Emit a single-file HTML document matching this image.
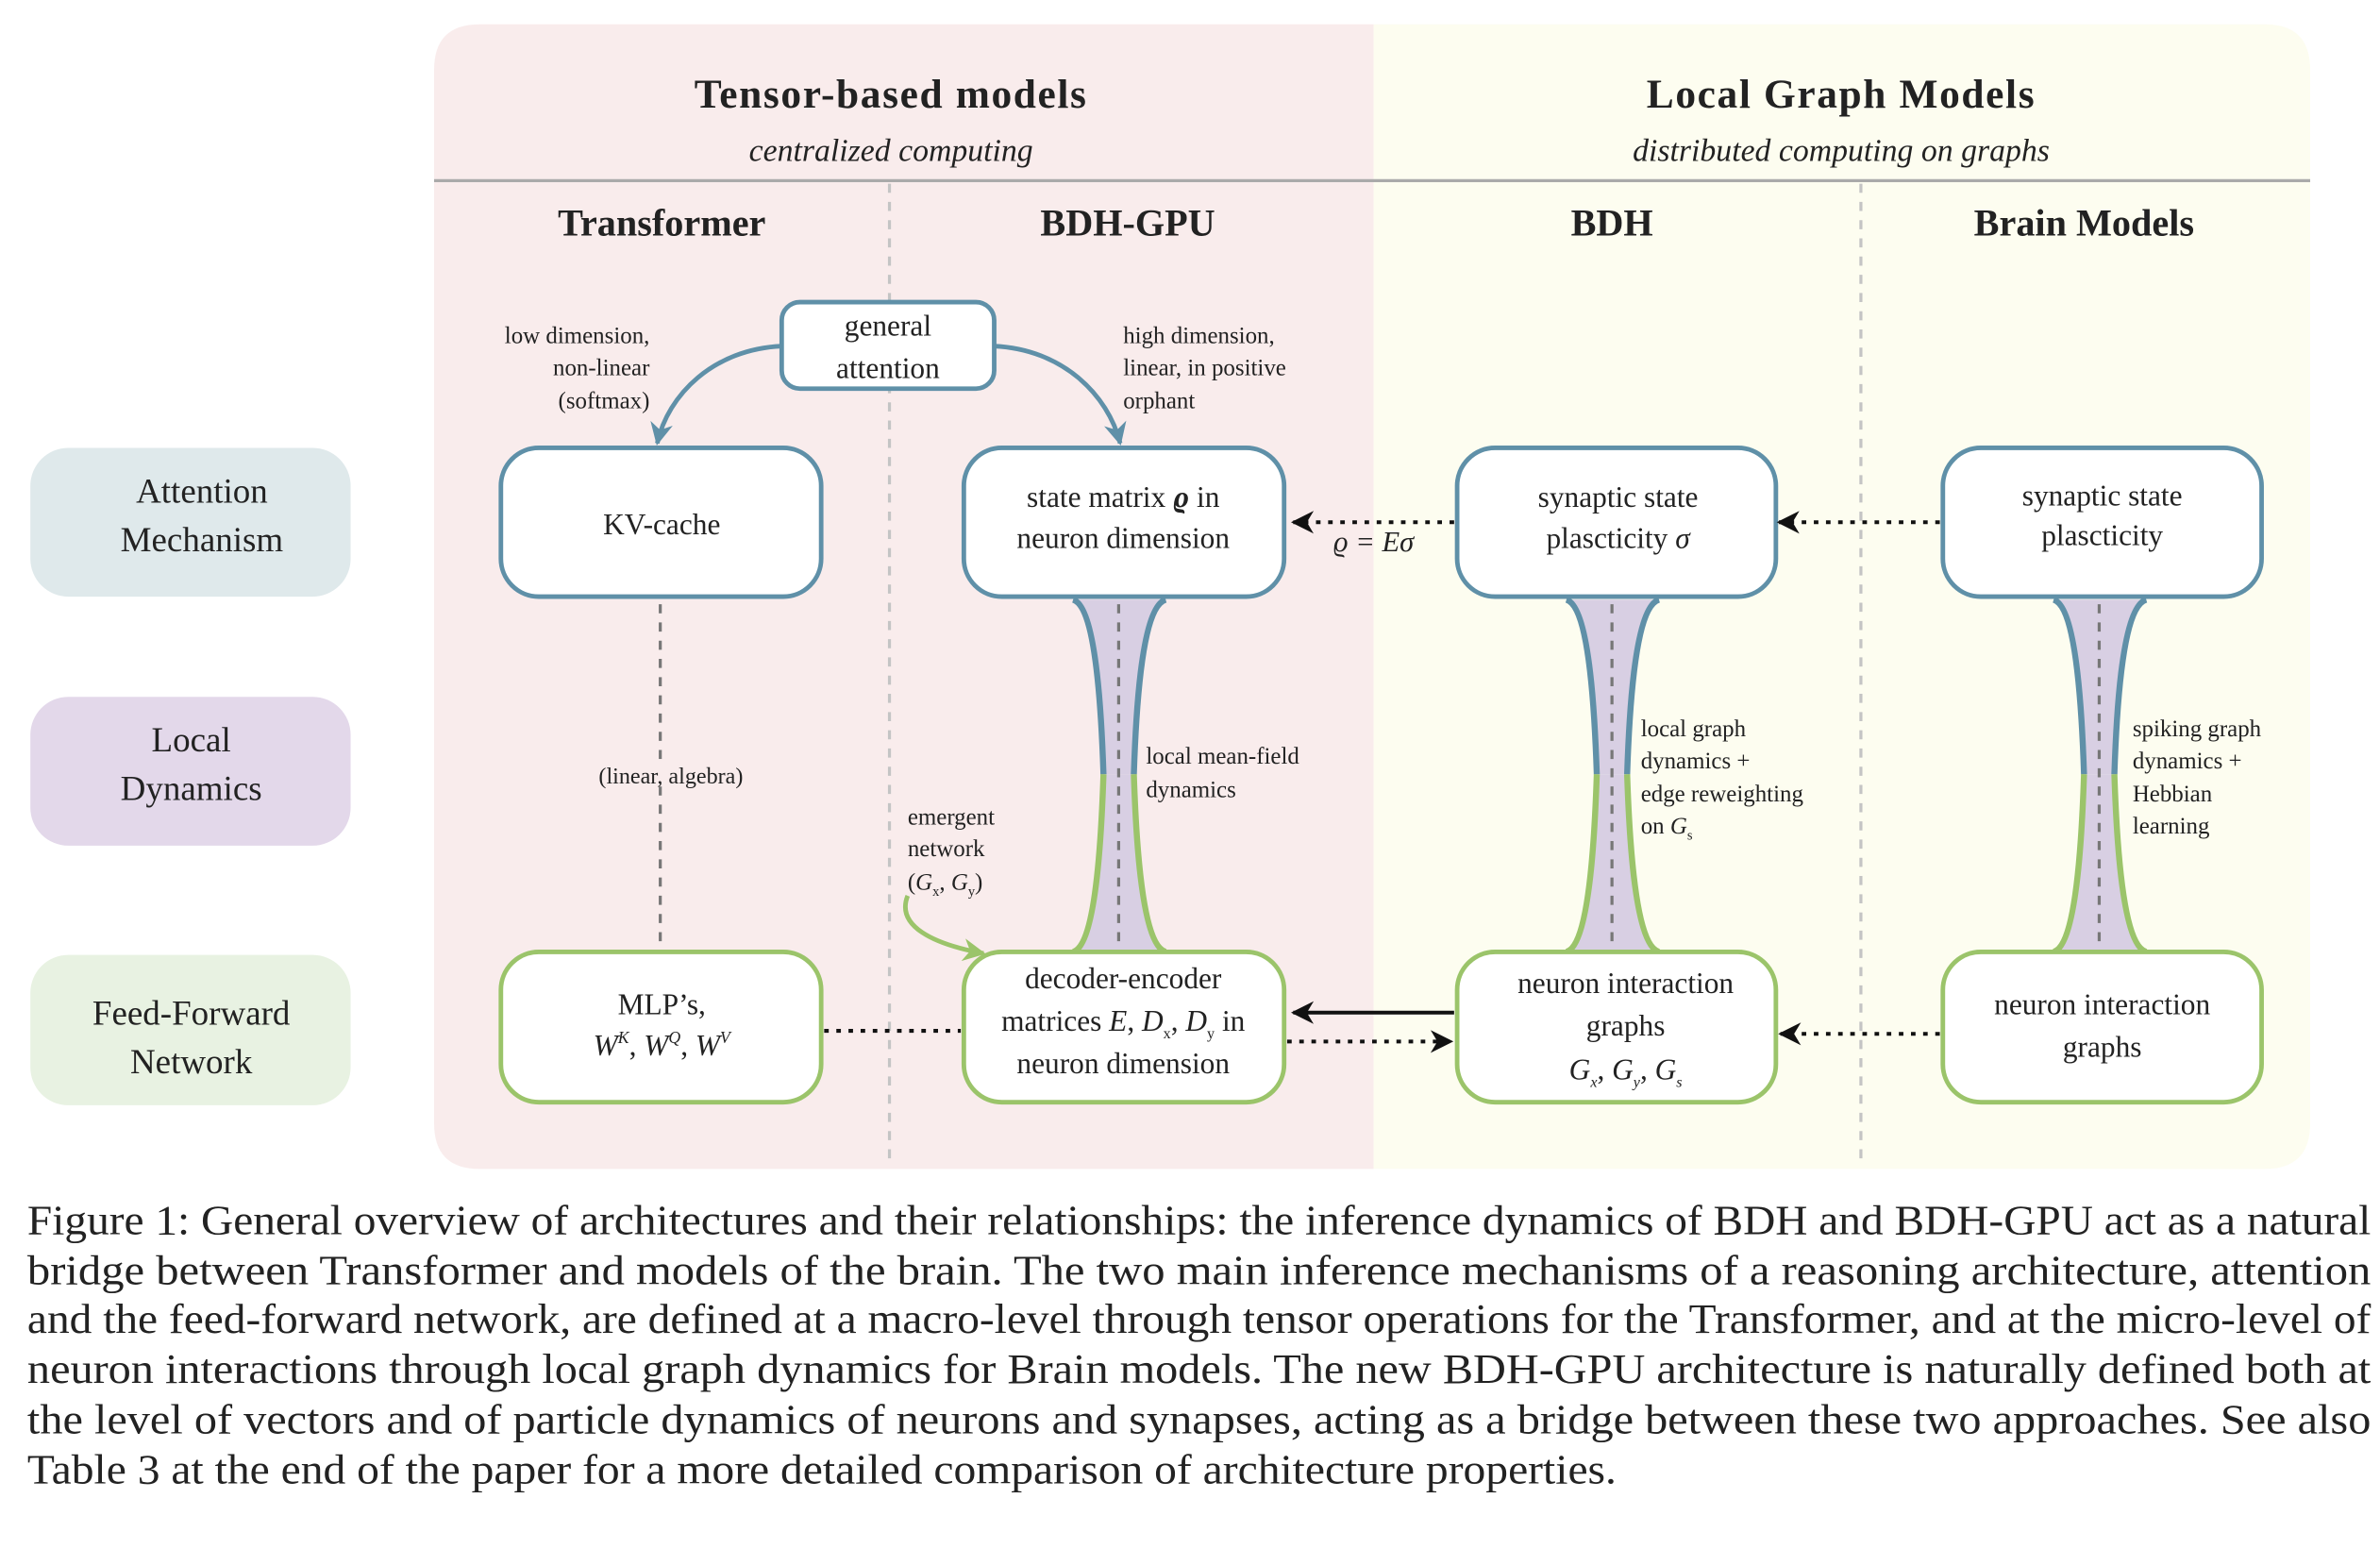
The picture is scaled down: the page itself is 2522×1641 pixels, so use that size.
<!DOCTYPE html>
<html><head><meta charset="utf-8"><style>
html,body{margin:0;padding:0;background:#fff;}
svg{display:block;}
text{font-family:"Liberation Serif",serif;fill:#222;}
</style></head><body>
<svg width="2522" height="1641" viewBox="0 0 1568 1020.3" preserveAspectRatio="none" xmlns="http://www.w3.org/2000/svg">
<defs>
<marker id="ab" viewBox="0 0 10 10" refX="9" refY="5" markerWidth="5" markerHeight="5" orient="auto"><path d="M0,0 L10,5 L0,10 L3,5z" fill="#5f90a8"/></marker>
<marker id="ak" viewBox="0 0 10 10" refX="9" refY="5" markerWidth="6" markerHeight="6" orient="auto"><path d="M0,0 L10,5 L0,10 L3,5z" fill="#111"/></marker>
<marker id="ag" viewBox="0 0 10 10" refX="9" refY="5" markerWidth="5" markerHeight="5" orient="auto"><path d="M0,0 L10,5 L0,10 L3,5z" fill="#9bc46a"/></marker>
</defs>
<path d="M316,16 H905 V770 H316 Q286,770 286,740 V46 Q286,16 316,16z" fill="#f9ecec"/>
<path d="M905,16 H1492 Q1522,16 1522,46 V740 Q1522,770 1492,770 H905z" fill="#fdfdf0"/>
<line x1="286" y1="119" x2="1522" y2="119" stroke="#aaa" stroke-width="2"/>
<line x1="586" y1="121" x2="586" y2="765" stroke="#c4c4c4" stroke-width="2" stroke-dasharray="6,6"/>
<line x1="1226" y1="121" x2="1226" y2="765" stroke="#c4c4c4" stroke-width="2" stroke-dasharray="6,6"/>
<g text-anchor="middle">
<text x="587" y="71" font-size="27" font-weight="bold" letter-spacing="1">Tensor-based models</text>
<text x="587" y="106" font-size="21" font-style="italic">centralized computing</text>
<text x="1213" y="71" font-size="27" font-weight="bold" letter-spacing="1">Local Graph Models</text>
<text x="1213" y="106" font-size="21" font-style="italic">distributed computing on graphs</text>
<text x="436" y="155" font-size="25" font-weight="bold">Transformer</text>
<text x="743" y="155" font-size="25" font-weight="bold">BDH-GPU</text>
<text x="1062" y="155" font-size="25" font-weight="bold">BDH</text>
<text x="1373" y="155" font-size="25" font-weight="bold">Brain Models</text>
</g>
<rect x="20" y="295" width="211" height="98" rx="25" fill="#dfe9eb"/>
<rect x="20" y="459" width="211" height="98" rx="25" fill="#e3d8ea"/>
<rect x="20" y="629" width="211" height="99" rx="25" fill="#e8f2e2"/>
<g text-anchor="middle" font-size="23">
<text x="133" y="331">Attention</text><text x="133" y="363">Mechanism</text>
<text x="126" y="495">Local</text><text x="126" y="527">Dynamics</text>
<text x="126" y="675">Feed-Forward</text><text x="126" y="707">Network</text>
</g>
<g id="tube">
<path d="M707,395 C723,400 726,480 727,510 L747,510 C748,480 751,400 768,395z" fill="#d8cfe3"/>
<path d="M707,627 C723,622 726,540 727,510 L747,510 C748,540 751,622 768,627z" fill="#d8cfe3"/>
<path d="M707,395 C723,400 726,480 727,510" fill="none" stroke="#5f90a8" stroke-width="4"/>
<path d="M768,395 C751,400 748,480 747,510" fill="none" stroke="#5f90a8" stroke-width="4"/>
<path d="M707,627 C723,622 726,540 727,510" fill="none" stroke="#9bc46a" stroke-width="4"/>
<path d="M768,627 C751,622 748,540 747,510" fill="none" stroke="#9bc46a" stroke-width="4"/>
<line x1="737" y1="398" x2="737" y2="622" stroke="#777" stroke-width="2" stroke-dasharray="6,6"/>
</g>
<use href="#tube" transform="translate(325,0)"/>
<use href="#tube" transform="translate(646,0)"/>
<line x1="435" y1="398" x2="435" y2="622" stroke="#777" stroke-width="2" stroke-dasharray="6,6"/>
<rect x="378" y="500" width="128" height="18" fill="#f9ecec"/>
<text x="442" y="516" font-size="15" text-anchor="middle">(linear, algebra)</text>
<g fill="#fff" stroke="#5f90a8" stroke-width="3">
<rect x="330" y="295" width="211" height="98" rx="25"/>
<rect x="635" y="295" width="211" height="98" rx="25"/>
<rect x="960" y="295" width="210" height="98" rx="25"/>
<rect x="1280" y="295" width="210" height="98" rx="25"/>
<rect x="515" y="199" width="140" height="57" rx="12"/>
</g>
<g fill="#fff" stroke="#9bc46a" stroke-width="3">
<rect x="330" y="627" width="211" height="99" rx="25"/>
<rect x="635" y="627" width="211" height="99" rx="25"/>
<rect x="960" y="627" width="210" height="99" rx="25"/>
<rect x="1280" y="627" width="210" height="99" rx="25"/>
</g>
<g text-anchor="middle" font-size="19.5">
<text x="585" y="221">general</text><text x="585" y="249">attention</text>
<text x="436" y="352">KV-cache</text>
<text x="740" y="334">state matrix <tspan font-weight="bold" font-style="italic">ϱ</tspan> in</text>
<text x="740" y="361">neuron dimension</text>
<text x="1066" y="334">synaptic state</text>
<text x="1066" y="361">plascticity <tspan font-style="italic">σ</tspan></text>
<text x="1385" y="333">synaptic state</text>
<text x="1385" y="359">plascticity</text>
<text x="436" y="668">MLP’s,</text>
<text x="436" y="695" font-style="italic">W<tspan font-size="11" dy="-8">K</tspan><tspan dy="8" font-style="normal">, </tspan>W<tspan font-size="11" dy="-8">Q</tspan><tspan dy="8" font-style="normal">, </tspan>W<tspan font-size="11" dy="-8">V</tspan></text>
<text x="740" y="651">decoder-encoder</text>
<text x="740" y="679">matrices <tspan font-style="italic">E</tspan>, <tspan font-style="italic">D</tspan><tspan font-size="10" dy="5">x</tspan><tspan dy="-5">, </tspan><tspan font-style="italic">D</tspan><tspan font-size="10" dy="5">y</tspan><tspan dy="-5"> in</tspan></text>
<text x="740" y="707">neuron dimension</text>
<text x="1071" y="654">neuron interaction</text>
<text x="1071" y="682">graphs</text>
<text x="1071" y="711" font-style="italic">G<tspan font-size="10" dy="5">x</tspan><tspan dy="-5" font-style="normal">, </tspan>G<tspan font-size="10" dy="5">y</tspan><tspan dy="-5" font-style="normal">, </tspan>G<tspan font-size="10" dy="5">s</tspan></text>
<text x="1385" y="668">neuron interaction</text>
<text x="1385" y="696">graphs</text>
</g>
<path d="M515,228 C470,230 440,260 433,292" fill="none" stroke="#5f90a8" stroke-width="3" marker-end="url(#ab)"/>
<path d="M655,228 C700,230 730,260 738,292" fill="none" stroke="#5f90a8" stroke-width="3" marker-end="url(#ab)"/>
<g font-size="15.5">
<text x="428" y="226" text-anchor="end">low dimension,</text>
<text x="428" y="247" text-anchor="end">non-linear</text>
<text x="428" y="269" text-anchor="end">(softmax)</text>
<text x="740" y="226">high dimension,</text>
<text x="740" y="247">linear, in positive</text>
<text x="740" y="269">orphant</text>
<text x="598" y="543">emergent</text>
<text x="598" y="564">network</text>
<text x="598" y="586">(<tspan font-style="italic">G</tspan><tspan font-size="9" dy="4">x</tspan><tspan dy="-4">, </tspan><tspan font-style="italic">G</tspan><tspan font-size="9" dy="4">y</tspan><tspan dy="-4">)</tspan></text>
<text x="755" y="503">local mean-field</text>
<text x="755" y="525">dynamics</text>
<text x="1081" y="485">local graph</text>
<text x="1081" y="506">dynamics +</text>
<text x="1081" y="528">edge reweighting</text>
<text x="1081" y="549">on <tspan font-style="italic">G</tspan><tspan font-size="9" dy="4">s</tspan></text>
<text x="1405" y="485">spiking graph</text>
<text x="1405" y="506">dynamics +</text>
<text x="1405" y="528">Hebbian</text>
<text x="1405" y="549">learning</text>
</g>
<line x1="958" y1="344" x2="852" y2="344" stroke="#111" stroke-width="2.5" stroke-dasharray="3,5" marker-end="url(#ak)"/>
<text x="905" y="363" font-size="19" text-anchor="middle" font-style="italic">ϱ = Eσ</text>
<line x1="1278" y1="344" x2="1172" y2="344" stroke="#111" stroke-width="2.5" stroke-dasharray="3,5" marker-end="url(#ak)"/>
<line x1="543" y1="679" x2="633" y2="679" stroke="#111" stroke-width="2.5" stroke-dasharray="3,5"/>
<line x1="958" y1="667" x2="852" y2="667" stroke="#111" stroke-width="2.5" marker-end="url(#ak)"/>
<line x1="848" y1="686" x2="956" y2="686" stroke="#111" stroke-width="2.5" stroke-dasharray="3,5" marker-end="url(#ak)"/>
<line x1="1278" y1="681" x2="1173" y2="681" stroke="#111" stroke-width="2.5" stroke-dasharray="3,5" marker-end="url(#ak)"/>
<path d="M598,590 C590,610 615,622 648,628" fill="none" stroke="#9bc46a" stroke-width="3" marker-end="url(#ag)"/>
<g font-size="27.5" fill="#111">
<text x="18" y="813" textLength="1544" lengthAdjust="spacingAndGlyphs">Figure 1: General overview of architectures and their relationships: the inference dynamics of BDH and BDH-GPU act as a natural</text>
<text x="18" y="846" textLength="1544" lengthAdjust="spacingAndGlyphs">bridge between Transformer and models of the brain.  The two main inference mechanisms of a reasoning architecture, attention</text>
<text x="18" y="878" textLength="1544" lengthAdjust="spacingAndGlyphs">and the feed-forward network, are defined at a macro-level through tensor operations for the Transformer, and at the micro-level of</text>
<text x="18" y="911" textLength="1544" lengthAdjust="spacingAndGlyphs">neuron interactions through local graph dynamics for Brain models.  The new BDH-GPU architecture is naturally defined both at</text>
<text x="18" y="944" textLength="1544" lengthAdjust="spacingAndGlyphs">the level of vectors and of particle dynamics of neurons and synapses, acting as a bridge between these two approaches.  See also</text>
<text x="18" y="977" textLength="1047" lengthAdjust="spacingAndGlyphs">Table 3 at the end of the paper for a more detailed comparison of architecture properties.</text>
</g>
</svg>
</body></html>
